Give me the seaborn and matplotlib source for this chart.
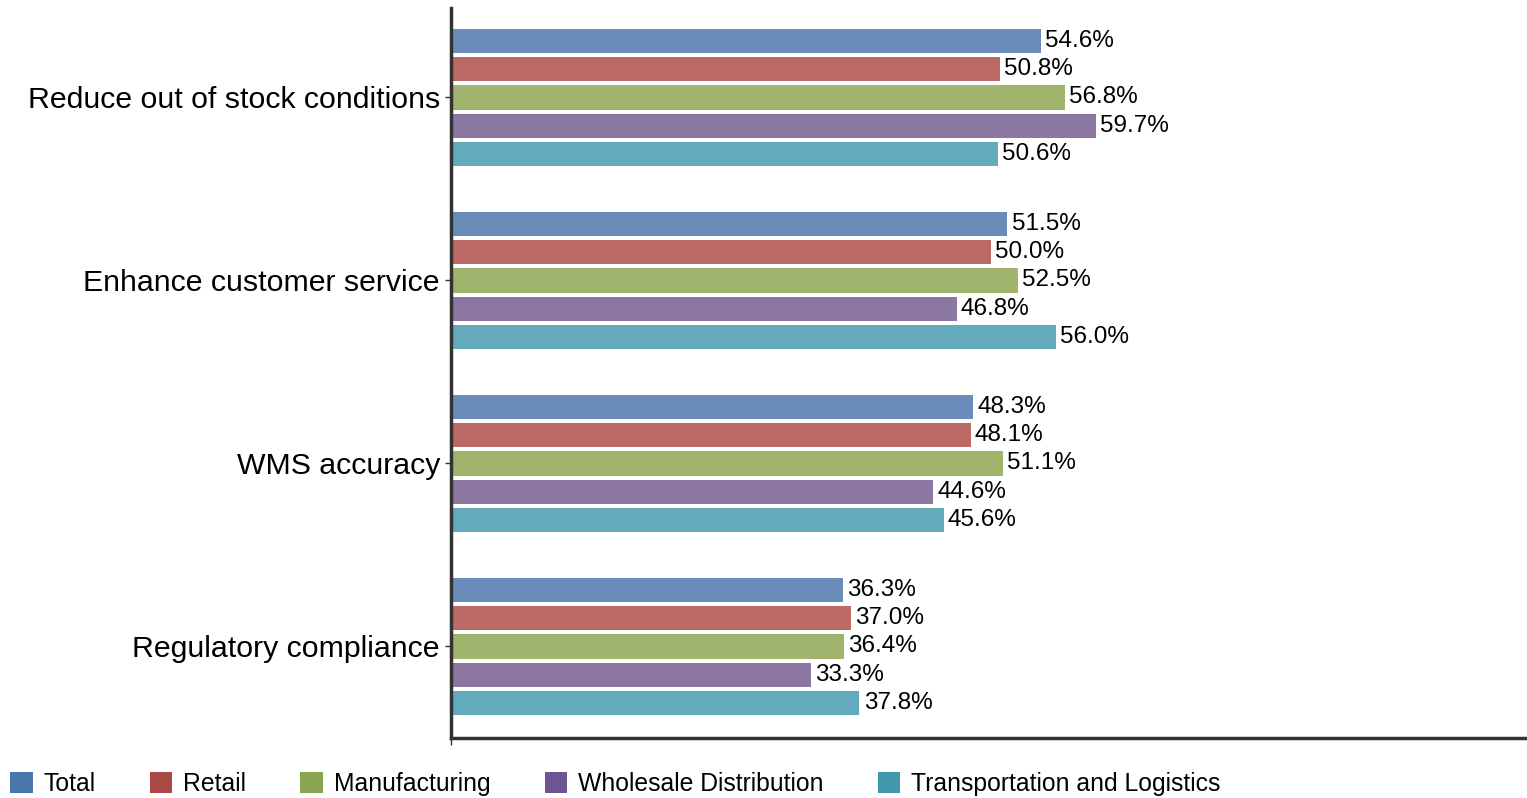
import pandas as pd
import seaborn as sns
import matplotlib.pyplot as plt
from matplotlib.patches import Patch

categories = ['Reduce out of stock conditions', 'Enhance customer service',
              'WMS accuracy', 'Regulatory compliance']
segments = ['Total', 'Retail', 'Manufacturing', 'Wholesale Distribution',
            'Transportation and Logistics']
total = [54.6, 51.5, 48.3, 36.3]
retail = [50.8, 50.0, 48.1, 37.0]
manufacturing = [56.8, 52.5, 51.1, 36.4]
wholesale = [59.7, 46.8, 44.6, 33.3]
transport = [50.6, 56.0, 45.6, 37.8]

bar_colors = ['#6a8cbb', '#bb6a66', '#a0b46e', '#8b77a2', '#64aabd']
legend_colors = ['#4a77ab', '#a94a47', '#88a450', '#6d5593', '#4197ae']

series = [total, retail, manufacturing, wholesale, transport]
rows = []
for seg, vals in zip(segments, series):
    for cat, v in zip(categories, vals):
        rows.append({'category': cat, 'segment': seg, 'value': v})
df = pd.DataFrame(rows)

sns.set_style('white')
plt.rcParams['font.family'] = ['Liberation Sans', 'DejaVu Sans']

fig = plt.figure(figsize=(15.27, 7.98), dpi=100)
ax = fig.add_axes([0.2954, 0.0752, 0.7046, 0.915])

sns.barplot(data=df, x='value', y='category', hue='segment', orient='h',
            palette=bar_colors, saturation=1, width=0.77, gap=0.14, ax=ax,
            legend=False, edgecolor='none', errorbar=None)

for cont in ax.containers:
    ax.bar_label(cont, fmt='%.1f%%', padding=3, fontsize=17.5, color='black')

ax.set_xlim(0, 99.6)
ax.set_ylim(3.5, -0.49)
ax.set_xlabel('')
ax.set_ylabel('')
ax.set_xticks([0])
ax.set_xticklabels([''])
ax.tick_params(axis='y', labelsize=21.8, labelcolor='black', length=4, width=1,
               color='#333333', left=True, pad=4)
ax.tick_params(axis='x', length=5, width=1, color='#333333', bottom=True)
for side in ['top', 'right']:
    ax.spines[side].set_visible(False)
for side in ['left', 'bottom']:
    ax.spines[side].set_color('#333333')
    ax.spines[side].set_linewidth(2.5)

handles = [Patch(facecolor=c, edgecolor='none') for c in legend_colors]
fig.legend(handles, segments, loc='lower left', bbox_to_anchor=(-0.003, -0.016),
           ncol=5, frameon=False, fontsize=17.8, handlelength=0.9,
           handleheight=0.9, handletextpad=0.45, columnspacing=2.19,
           borderaxespad=0.2, labelcolor='black')

fig.savefig('out.png', dpi=100)
